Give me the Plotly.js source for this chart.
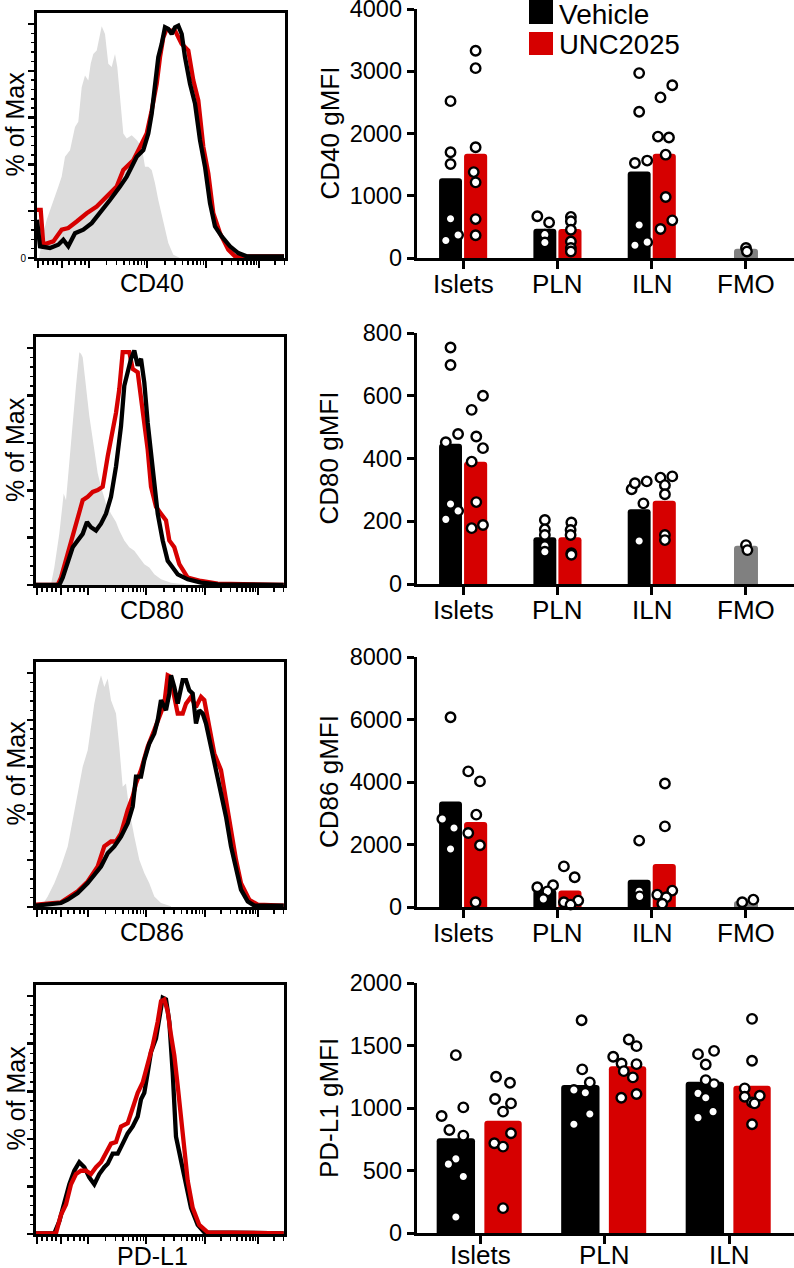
<!DOCTYPE html>
<html><head><meta charset="utf-8">
<script src="https://cdn.plot.ly/plotly-3.0.1.min.js"></script>
<style>html,body{margin:0;padding:0;background:#fff}#chart{width:794px;height:1268px}</style>
</head><body><div id="chart"></div><script>
// ---------------- DATA ----------------
const barCats4 = ["Islets", "PLN", "ILN", "FMO"];
const barCats3 = ["Islets", "PLN", "ILN"];
const markerNames = ["CD40", "CD80", "CD86", "PD-L1"];
const gmfiTitles = ["CD40 gMFI", "CD80 gMFI", "CD86 gMFI", "PD-L1 gMFI"];
const legendNames = ["Vehicle", "UNC2025"];

// CD40
const cd40VehBars = [1280, 470, 1390];
const cd40UncBars = [1675, 465, 1675];
const cd40FmoBar = [150];
const cd40VehDots = [[2520,1700,1510,630,280,370],[670,570,375,250],[2970,2350,1525,1565,530,205,255]];
const cd40VehJit  = [[0,0,0,0,-0.05,0.08],[-0.08,0.045,0,0],[0,0,-0.045,0.085,0,-0.045,0.085]];
const cd40UncDots = [[3330,3050,1780,1380,1215,625,365],[660,590,455,265,160,105],[2775,2580,1950,1935,1660,980,605,465]];
const cd40UncJit  = [[0,0,0,-0.02,0,0,0],[0.01,0.01,0.01,0.01,0.01,0.01],[0.085,-0.04,-0.067,0.05,0.015,0.015,0.085,-0.04]];
const cd40FmoDots = [160,105];
const cd40FmoJit  = [0,0.01];

// CD80
const cd80VehBars = [447, 149, 238];
const cd80UncBars = [390, 149, 265];
const cd80FmoBar = [122];
const cd80VehDots = [[754,698,478,452,255,233,206],[204,174,156,121,103],[302,321,327,257,137]];
const cd80VehJit  = [[0,0,0.08,-0.05,0,0.08,-0.05],[0,0,0,0,0],[-0.08,-0.045,0.08,0.045,0]];
const cd80UncDots = [[600,555,470,433,390,261,188,178],[196,172,156,98,93],[339,343,315,286,156,140]];
const cd80UncJit  = [[0.078,-0.042,0.007,0.078,-0.042,0.007,0.078,-0.042],[0.015,0.007,0.007,0.015,0.015],[-0.04,0.085,0.007,0.007,0.007,0.007]];
const cd80FmoDots = [124,108];
const cd80FmoJit  = [0,0.015];

// CD86
const cd86VehBars = [3380, 555, 875];
const cd86UncBars = [2720, 530, 1375];
const cd86FmoBar = [190];
const cd86VehDots = [[6070,2815,2530,1855],[630,695,500,255],[2125,500,340]];
const cd86VehJit  = [[0,-0.087,0.037,0],[-0.08,0.087,0.027,-0.016],[0,0,0.005]];
const cd86UncDots = [[4340,4020,2955,2370,1975,150],[1300,950,150,205,75],[3950,2580,525,395,310,105]];
const cd86UncJit  = [[-0.078,0.046,0.007,-0.078,0.046,0],[-0.064,0.05,-0.064,0.088,0.007],[0.007,0.007,0.085,-0.074,0.021,-0.021]];
const cd86FmoDots = [150,235];
const cd86FmoJit  = [-0.04,0.078];

// PD-L1
const pdl1VehBars = [758, 1184, 1210];
const pdl1UncBars = [899, 1335, 1178];
const pdl1VehDots = [[1423,1005,936,824,779,593,551,452,128],[1702,1309,1205,1144,1122,952,870],[1457,1431,1348,1223,1191,1117,1082,971,923]];
const pdl1VehJit  = [[0,0.06,-0.114,-0.052,0.06,0,-0.06,0.06,0],[0.01,0.015,0.076,-0.052,0.04,0.076,-0.052],[0.074,-0.055,0.007,0.007,0.074,-0.055,0.007,0.066,-0.055]];
const pdl1UncDots = [[1250,1202,1072,1037,971,798,718,691,199],[1548,1495,1410,1356,1351,1295,1245,1112,1082],[1713,1378,1157,1090,1098,1045,1037,870]];
const pdl1UncJit  = [[-0.056,0.056,-0.064,0.064,0,0.064,-0.07,0,0],[0.01,0.072,-0.115,-0.048,0.072,-0.03,0.043,0.072,-0.05],[0,0,-0.059,-0.059,0.062,0,0.02,0]];

// Histograms (x: channel, y: % of max)
const cd40FmoHistX = [2,6.3,9.7,13,21.3,24.7,28,33,38,41.3,44.7,48,51.3,53.7,56.3,59.7,62.3,64.7,68,71.3,74.7,78,80.3,83,86.3,89.7,94.7,99.7,104.7,108,111.3,114.7,118,121.3,126.3,131.3,136.3,143];
const cd40FmoHistY = [0,10.6,16.3,20.6,30.5,34.8,43.3,46.1,56.0,58.2,73.0,78.0,75.9,83.0,87.2,88.7,94.3,99,95.7,83.0,81.6,87.2,81.6,67.4,53.2,51.1,52.5,50.4,47.5,39.0,39.0,37.6,31.9,24.8,14.9,6.4,1.4,0];
const cd40VehHistX = [0,1.3,3,13,21.3,26.3,31.3,38,46.3,54.7,63,73,83,89.7,94.7,99.7,106.3,111.3,114.7,118,121.3,124.7,128,131.3,134.7,138,141.3,144.7,148,153,158,163,168,173,178,184.7,193,201.3,209.7,229.7,247];
const cd40VehHistY = [16.3,10.6,5.0,4.3,5.7,7.8,5.0,10.6,12.1,14.9,19.1,24.8,30.5,34.8,39.0,43.3,46.1,53.2,61.7,74.5,85.8,91.5,98.6,97.9,95.7,98.6,99.3,95.7,85.8,74.5,66.0,50.4,39.0,23.4,13.5,9.2,5.0,2.1,0.7,0.7,0.7];
const cd40UncHistX = [0,3.7,6.3,16.3,24.7,31.3,39.7,49.7,59.7,69.7,79.7,86.3,96.3,103,109.7,114.7,119.7,123,126.3,129.7,133,138,144.7,151.3,156.3,161.3,166.3,171.3,176.3,183,191.3,198,247];
const cd40UncHistY = [20.6,20.6,5.7,7.1,12.1,12.8,15.6,19.1,22.0,26.2,30.5,37.6,41.8,47.5,53.2,63.1,74.5,85.8,94.3,97.9,97.2,97.2,91.5,88.7,75.9,67.4,47.5,36.2,19.1,10.6,3.5,0.7,0.7];

const cd80FmoHistX = [15,18.3,23.3,27.7,30,33.3,36.7,40,43.3,45,46.7,50,53.3,58.3,61.7,65,70,75,80,83.3,88.3,93.3,98.3,103.3,108.3,113.3,118.3,125,135,148.3];
const cd80FmoHistY = [0.3,7.4,21.6,38.6,35.8,52.8,69.9,84.1,98.3,97.6,96.2,84.1,71.3,57.1,47.2,41.5,34.4,30.1,26.6,23.0,18.8,15.9,14.5,11.6,8.8,7.4,4.5,2.4,1.0,0.3];
const cd80VehHistX = [0,23.3,26.7,31.7,36.7,41.7,46.7,51,55,60,65,70,75,80,85,88.3,91.7,95,98.3,101.7,105,108.3,111.7,115,118.3,121.7,126.7,131.7,136.7,141.7,151.7,165,181.7,247.7];
const cd80VehHistY = [0,0,3.1,10.2,15.9,18.8,21.6,26.6,24.4,23.0,25.9,30.1,37.2,50.0,67.0,84.1,89.8,95.5,99.0,92.6,95.5,85.5,68.5,54.3,41.5,30.1,18.8,10.2,7.4,4.5,2.4,1.0,0.3,0];
const cd80UncHistX = [0,21.7,25,31.7,36.7,43.3,46.7,51.7,56.7,61.7,66.7,71.7,76.7,80,83.3,86.7,93.3,96.7,101.7,106.7,111.7,115,120,125,130,133.3,138.3,143.3,151.7,165,181.7,247.7];
const cd80UncHistY = [0,0,3.1,13.1,20.2,30.1,35.8,37.2,39.3,40.1,41.5,54.3,64.2,72.7,82.7,98.3,98.3,91.2,89.8,74.1,57.1,41.5,33.0,30.1,27.3,18.8,15.9,8.8,3.1,1.7,0.6,0];

const cd86FmoHistX = [5,11.7,18.3,25,31.7,36.7,41.7,46.7,51.7,55,58.3,61.7,65,68.3,71.7,75,80,83.3,86.7,90,93.3,98.3,103.3,108.3,113.3,118.3,125,135];
const cd86FmoHistY = [0,4.5,10.2,17.3,25.9,37.2,48.6,59.9,67.0,77.0,86.9,94.0,99.0,94.0,97.6,88.4,82.7,68.5,51.4,52.8,41.5,30.1,20.2,14.5,10.2,4.5,1.7,0.3];
const cd86VehHistX = [0,15,25,31.7,41.7,51.7,60,65,71.7,78.3,85,91.7,96.7,100,105,108.3,113.3,118.3,121.7,125,130,133.3,135,138.3,141.7,146.7,150,153.3,156.7,160,163.3,166.7,170,175,180,185,190,195,200,205,211.7,218.3,247.7];
const cd86VehHistY = [0.6,1.0,1.7,3.1,6.0,10.2,14.5,17.3,23.0,25.9,30.1,35.8,42.9,55.7,55.7,62.8,69.9,74.1,79.8,88.4,84.1,91.2,99.0,94.0,86.9,96.9,96.9,92.6,91.2,78.4,84.1,82.7,78.4,68.5,58.5,48.6,38.6,25.9,17.3,7.4,2.4,0.6,0.6];
const cd86UncHistX = [0,25,41.7,51.7,61.7,68.3,75,80,85,91.7,96.7,100,105,111.7,118.3,123.3,128.3,131.7,135,138.3,141.7,146.7,150,155,160,165,168.3,173.3,178.3,185,190,195,200,205,213.3,221.7,247.7];
const cd86UncHistY = [1.0,2.0,6.7,10.9,17.3,25.9,28.0,28.0,31.5,41.5,47.2,52.8,58.5,68.5,75.6,81.3,86.9,99.0,98.3,89.8,82.7,82.7,86.9,89.8,85.5,89.8,88.4,77.0,65.6,58.5,45.7,31.5,20.2,10.2,3.1,1.0,0.6];

const pdl1VehHistX = [0,18.3,23.3,28.3,33.3,38.3,43.3,48.3,53.3,58.3,63.3,68.3,71.7,76.7,81.7,86.7,91.7,96.7,101.7,105,108.3,111.7,115,120,123.3,126.7,130,133.3,136.7,140,145,150,155,161.7,168.3,247.7];
const pdl1VehHistY = [0.3,0.3,5.3,13.8,20.9,26.6,30.2,28.1,23.8,20.9,25.2,28.1,29.5,33.8,33.8,38.0,42.3,45.2,49.4,56.6,59.4,67.9,76.5,82.2,90.7,99.3,98.6,89.3,67.9,40.9,30.9,20.9,11.0,3.8,0.7,0.3];
const pdl1UncHistX = [0,20,25,30,35,40,45,50,55,60,65,70,75,80,85,91.7,96.7,101.7,106.7,111.7,116.7,121.7,125,128.3,131.7,135,138.3,141.7,145,148.3,151.7,156.7,163.3,171.7,247.7];
const pdl1UncHistY = [0.3,0.3,8.1,12.4,20.9,25.2,26.6,26.6,25.2,28.1,30.2,33.8,38.0,38.7,45.2,46.6,53.7,59.4,63.7,70.8,79.3,89.3,97.9,98.6,93.6,83.6,75.1,62.3,48.0,33.8,22.4,11.0,3.8,0.7,0.3];

// ---------------- STYLE / LAYOUT ----------------
const FONT = "Arial, 'Liberation Sans', Helvetica, sans-serif";
const BLACK = "#000000", RED = "#d60000", GREY = "#808080", FILLGREY = "#dcdcdc";
const W = 794, H = 1268;
const fx = p => p / W;
const fy = p => 1 - p / H;

const histBoxes = [[37,285,13,258],[36,284,337,585],[36,284,662,907],[36,284,985,1234]];
const barBoxes  = [[417,794,9,258],[417,794,333,584],[417,794,657,907],[417,794,983,1233]];
const barYMax = [4000, 800, 8000, 2000];
const barYDtick = [1000, 200, 2000, 500];
const histLabelGap = [25, 25, 25, 22];
const catLabelGap = [26, 26, 26, 22];

const rows = [
  {vb: cd40VehBars, ub: cd40UncBars, fb: cd40FmoBar, vd: cd40VehDots, vj: cd40VehJit, ud: cd40UncDots, uj: cd40UncJit, fd: cd40FmoDots, fj: cd40FmoJit,
   hf: [cd40FmoHistX, cd40FmoHistY], hv: [cd40VehHistX, cd40VehHistY], hu: [cd40UncHistX, cd40UncHistY]},
  {vb: cd80VehBars, ub: cd80UncBars, fb: cd80FmoBar, vd: cd80VehDots, vj: cd80VehJit, ud: cd80UncDots, uj: cd80UncJit, fd: cd80FmoDots, fj: cd80FmoJit,
   hf: [cd80FmoHistX, cd80FmoHistY], hv: [cd80VehHistX, cd80VehHistY], hu: [cd80UncHistX, cd80UncHistY]},
  {vb: cd86VehBars, ub: cd86UncBars, fb: cd86FmoBar, vd: cd86VehDots, vj: cd86VehJit, ud: cd86UncDots, uj: cd86UncJit, fd: cd86FmoDots, fj: cd86FmoJit,
   hf: [cd86FmoHistX, cd86FmoHistY], hv: [cd86VehHistX, cd86VehHistY], hu: [cd86UncHistX, cd86UncHistY]},
  {vb: pdl1VehBars, ub: pdl1UncBars, fb: null, vd: pdl1VehDots, vj: pdl1VehJit, ud: pdl1UncDots, uj: pdl1UncJit, fd: null, fj: null,
   hf: null, hv: [pdl1VehHistX, pdl1VehHistY], hu: [pdl1UncHistX, pdl1UncHistY]}
];

// histogram axis ticks (biexponential-like display)
const histMajor = [1, 25, 52, 110, 169, 222];
const histMinor = [];
[6, 11, 16, 20, 32, 38, 44, 48].forEach(v => histMinor.push(v));
[[52,58],[110,59],[169,53],[222,53]].forEach(([s, w]) => {
  for (let k = 2; k <= 9; k++) { const v = s + w * Math.log10(k); if (v < 248) histMinor.push(v); }
});
const histYMinor = [];
for (let v = 4; v < 104; v += 4) if (v % 20 !== 0) histYMinor.push(v);

const traces = [];
const layout = {
  width: W, height: H, margin: {l: 0, r: 0, t: 0, b: 0},
  paper_bgcolor: "#fff", plot_bgcolor: "rgba(0,0,0,0)",
  showlegend: false, barmode: "overlay",
  font: {family: FONT, color: "#000"},
  annotations: [], shapes: []
};

const dotMarker = {symbol: "circle", size: 9.5, color: "#ffffff", line: {color: "#000", width: 2.4}};

rows.forEach((r, i) => {
  const hN = 2 * i + 1, bN = 2 * i + 2;
  const hx = hN === 1 ? "x" : "x" + hN, hy = hN === 1 ? "y" : "y" + hN;
  const bx = "x" + bN, by = "y" + bN;
  const hk = hN === 1 ? "" : String(hN);
  const hb = histBoxes[i], bb = barBoxes[i];

  // --- histogram ---
  if (r.hf) traces.push({type: "scatter", mode: "lines", x: r.hf[0], y: r.hf[1], xaxis: hx, yaxis: hy,
    fill: "tozeroy", fillcolor: FILLGREY, line: {width: 0, color: FILLGREY}, hoverinfo: "skip"});
  const redTr = {type: "scatter", mode: "lines", x: r.hu[0], y: r.hu[1], xaxis: hx, yaxis: hy, line: {color: RED, width: 4.3}, hoverinfo: "skip"};
  const blkTr = {type: "scatter", mode: "lines", x: r.hv[0], y: r.hv[1], xaxis: hx, yaxis: hy, line: {color: BLACK, width: 4.3}, hoverinfo: "skip"};
  if (i < 3) { traces.push(redTr, blkTr); } else { traces.push(blkTr, redTr); }

  layout["xaxis" + hk] = {domain: [fx(hb[0]), fx(hb[1])], anchor: hy, range: [0, 248],
    showline: true, mirror: true, linecolor: "#000", linewidth: 3,
    ticks: "outside", tickmode: "array", tickvals: histMajor, ticklen: 7, tickwidth: 2, tickcolor: "#000",
    minor: {tickmode: "array", tickvals: histMinor, ticks: "outside", ticklen: 4, tickwidth: 1.5, tickcolor: "#000", showgrid: false},
    showticklabels: false, showgrid: false, zeroline: false, fixedrange: true};
  layout["yaxis" + hk] = {domain: [fy(hb[3]), fy(hb[2])], anchor: hx, range: [0, 104.7],
    showline: true, mirror: true, linecolor: "#000", linewidth: 3,
    ticks: "outside", tickmode: "array", tickvals: [0, 20, 40, 60, 80, 100],
    ticktext: i === 0 ? ["0", "", "", "", "", ""] : ["", "", "", "", "", ""],
    showticklabels: i === 0, tickfont: {size: 10, family: FONT}, ticklabeloverflow: "allow",
    ticklen: 6, tickwidth: 2.5, tickcolor: "#000",
    minor: {tickmode: "array", tickvals: histYMinor, ticks: "outside", ticklen: 3, tickwidth: 1.5, tickcolor: "#000", showgrid: false},
    showgrid: false, zeroline: false, fixedrange: true};

  layout.annotations.push({xref: "paper", yref: "paper", x: fx(15), y: fy((hb[2] + hb[3]) / 2 - 11),
    text: "% of Max", textangle: -90, showarrow: false, xanchor: "center", yanchor: "middle",
    font: {size: 25, family: FONT, color: "#000"}});
  layout.annotations.push({xref: "paper", yref: "paper", x: fx(152), y: fy(hb[3] + histLabelGap[i]),
    text: markerNames[i], showarrow: false, xanchor: "center", yanchor: "middle",
    font: {size: 25, family: FONT, color: "#000"}});

  // --- bars ---
  const four = i < 3;
  const cats = four ? barCats4 : barCats3;
  const vOff = four ? -0.254 : -0.348, vW = four ? 0.243 : 0.308;
  const uOff = four ? 0.011 : 0.035, uW = four ? 0.245 : 0.300;
  const fOff = -0.127, fW = 0.254;
  const idx3 = [0, 1, 2];
  traces.push({type: "bar", x: idx3, y: r.vb, offset: vOff, width: vW, xaxis: bx, yaxis: by,
    marker: {color: BLACK, line: {width: 0}, cornerradius: 3}, name: legendNames[0], hoverinfo: "skip"});
  traces.push({type: "bar", x: idx3, y: r.ub, offset: uOff, width: uW, xaxis: bx, yaxis: by,
    marker: {color: RED, line: {width: 0}, cornerradius: 3}, name: legendNames[1], hoverinfo: "skip"});
  if (r.fb) traces.push({type: "bar", x: [3], y: r.fb, offset: fOff, width: fW, xaxis: bx, yaxis: by,
    marker: {color: GREY, line: {width: 0}, cornerradius: 3}, hoverinfo: "skip"});

  const vC = vOff + vW / 2, uC = uOff + uW / 2, fC = fOff + fW / 2;
  const pushDots = (vals, jits, catIdx, center) => {
    traces.push({type: "scatter", mode: "markers", xaxis: bx, yaxis: by,
      x: jits.map(j => catIdx + center + j), y: vals, marker: dotMarker, cliponaxis: false, hoverinfo: "skip"});
  };
  r.vd.forEach((vals, c) => pushDots(vals, r.vj[c], c, vC));
  r.ud.forEach((vals, c) => pushDots(vals, r.uj[c], c, uC));
  if (r.fd) pushDots(r.fd, r.fj, 3, fC);

  const xr = four ? [-0.488, 3.509] : [-0.506, 2.522];
  layout["xaxis" + bN] = {domain: [fx(bb[0]), fx(bb[1])], anchor: by, range: xr,
    showline: true, linecolor: "#000", linewidth: 3.3,
    ticks: "outside", tickmode: "array", tickvals: cats.map((_, k) => k), ticktext: cats,
    ticklen: 8, tickwidth: 3, tickcolor: "#000", showticklabels: false,
    showgrid: false, zeroline: false, fixedrange: true};
  layout["yaxis" + bN] = {domain: [fy(bb[3]), fy(bb[2])], anchor: bx, range: [0, barYMax[i]],
    showline: true, linecolor: "#000", linewidth: 3.3,
    ticks: "outside", tickmode: "linear", tick0: 0, dtick: barYDtick[i], ticklabeloverflow: "allow",
    ticklen: 7, tickwidth: 3, tickcolor: "#000", tickfont: {size: 23.5, family: FONT, color: "#000"},
    showgrid: false, zeroline: false, fixedrange: true};

  // category labels under the bar axis
  cats.forEach((c, k) => layout.annotations.push({xref: bx, yref: "paper", x: k, y: fy(bb[3] + catLabelGap[i]),
    text: c, showarrow: false, xanchor: "center", yanchor: "middle",
    font: {size: 26, family: FONT, color: "#000"}}));

  layout.annotations.push({xref: "paper", yref: "paper", x: fx(329), y: fy((bb[2] + bb[3]) / 2),
    text: gmfiTitles[i], textangle: -90, showarrow: false, xanchor: "center", yanchor: "middle",
    font: {size: 26, family: FONT, color: "#000"}});
});

// legend (top right)
layout.shapes.push({type: "rect", xref: "paper", yref: "paper", x0: fx(529), x1: fx(553), y0: fy(24), y1: fy(0), fillcolor: BLACK, line: {width: 0}});
layout.shapes.push({type: "rect", xref: "paper", yref: "paper", x0: fx(529), x1: fx(553), y0: fy(55), y1: fy(32), fillcolor: RED, line: {width: 0}});
layout.annotations.push({xref: "paper", yref: "paper", x: fx(557), y: fy(14), text: legendNames[0], showarrow: false,
  xanchor: "left", yanchor: "middle", font: {size: 28, family: FONT, color: "#000"}});
layout.annotations.push({xref: "paper", yref: "paper", x: fx(557), y: fy(44), text: legendNames[1], showarrow: false,
  xanchor: "left", yanchor: "middle", font: {size: 27.5, family: FONT, color: "#000"}});

Plotly.newPlot("chart", traces, layout, {displayModeBar: false, staticPlot: true});
</script></body></html>
